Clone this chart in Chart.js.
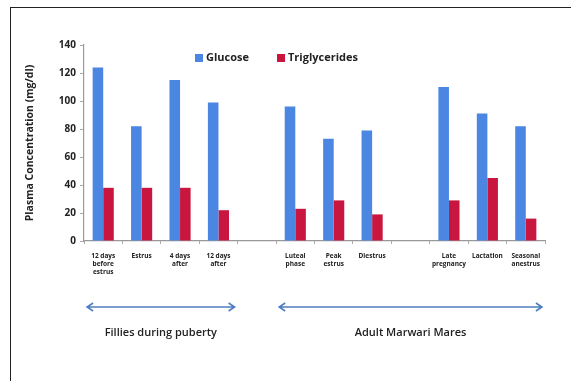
<!DOCTYPE html>
<html>
<head>
<meta charset="utf-8">
<script src="https://cdn.jsdelivr.net/npm/chart.js@4.4.1/dist/chart.umd.min.js"></script>
<style>
  html, body { margin: 0; padding: 0; background: #fff; overflow: hidden; }
  #wrap { position: absolute; left: 0; top: 0; width: 571px; height: 381px; }
  #frame { position: absolute; left: 10px; top: 7px; width: 600px; height: 420px;
           border: 1.5px solid #222; box-sizing: border-box; pointer-events: none; }
</style>
</head>
<body>
<div id="wrap"><canvas id="c" width="571" height="381"></canvas></div>
<div id="frame"></div>
<script>
// Reproductive stages (empty entries separate the groups)
const categories = [
  ["12 days", "before", "estrus"],
  ["Estrus"],
  ["4 days", "after"],
  ["12 days", "after"],
  "",
  ["Luteal", "phase"],
  ["Peak", "estrus"],
  ["Diestrus"],
  "",
  ["Late", "pregnancy"],
  ["Lactation"],
  ["Seasonal", "anestrus"]
];
const glucose       = [124, 82, 115, 99, null, 96, 73, 79, null, 110, 91, 82];
const triglycerides = [38, 38, 38, 22, null, 23, 29, 19, null, 29, 45, 16];
const yTicks = [0, 20, 40, 60, 80, 100, 120, 140];
const groupNames = ["Fillies during puberty", "Adult Marwari Mares"];
const groupRanges = [[0, 3], [5, 11]];

const BLUE = '#4A86E2';
const RED = '#C8163F';
const FONT = '"Open Sans", "DejaVu Sans", sans-serif';

// Legend and group arrows drawn on the canvas
const annotate = {
  id: 'annotate',
  afterDraw(chart) {
    const ctx = chart.ctx;
    const ca = chart.chartArea;
    const x = chart.scales.x;
    ctx.save();
    // legend
    const items = [[chart.data.datasets[0], 195], [chart.data.datasets[1], 277]];
    ctx.font = 'bold 11px ' + FONT;
    ctx.textBaseline = 'middle';
    ctx.textAlign = 'left';
    items.forEach(([ds, lx]) => {
      ctx.fillStyle = ds.backgroundColor;
      ctx.fillRect(lx, 54, 8, 8);
      ctx.fillStyle = '#222';
      ctx.fillText(ds.label, lx + 11, 58);
    });
    // group arrows
    const slot = x.width / chart.data.labels.length;
    const ay = ca.bottom + 66;
    ctx.strokeStyle = '#4F7FC0';
    ctx.lineWidth = 1.6;
    groupRanges.forEach(([a, b], i) => {
      const x0 = x.getPixelForValue(a) - slot * 0.42;
      const x1 = x.getPixelForValue(b) + slot * 0.42;
      ctx.beginPath();
      ctx.moveTo(x0, ay); ctx.lineTo(x1, ay);
      ctx.moveTo(x0 + 6, ay - 4); ctx.lineTo(x0, ay); ctx.lineTo(x0 + 6, ay + 4);
      ctx.moveTo(x1 - 6, ay - 4); ctx.lineTo(x1, ay); ctx.lineTo(x1 - 6, ay + 4);
      ctx.stroke();
      ctx.fillStyle = '#222';
      ctx.font = '600 11px ' + FONT;
      ctx.textAlign = 'center';
      ctx.fillText(groupNames[i], (x0 + x1) / 2, ay + 26);
    });
    ctx.restore();
  }
};

new Chart(document.getElementById('c'), {
  type: 'bar',
  data: {
    labels: categories,
    datasets: [
      { label: 'Glucose', data: glucose, backgroundColor: BLUE },
      { label: 'Triglycerides', data: triglycerides, backgroundColor: RED }
    ]
  },
  options: {
    responsive: false,
    animation: false,
    layout: { padding: { left: 22, right: 26, top: 45, bottom: 0 } },
    datasets: { bar: { barPercentage: 1, categoryPercentage: 0.55 } },
    plugins: { legend: { display: false }, tooltip: { enabled: false } },
    scales: {
      x: {
        grid: { display: true, drawOnChartArea: false, offset: true, tickLength: 3, color: '#aaa' },
        border: { color: '#999', width: 1.2 },
        ticks: {
          autoSkip: false, maxRotation: 0, minRotation: 0, padding: 8,
          color: '#222', font: { family: FONT, size: 6.5, weight: 'bold', lineHeight: 1.25 }
        },
        afterFit(s) { s.height = 140; }
      },
      y: {
        min: 0, max: 140,
        afterBuildTicks(s) { s.ticks = yTicks.map(v => ({ value: v })); },
        grid: { display: true, drawOnChartArea: false, tickLength: 4, color: '#aaa' },
        border: { color: '#999', width: 1.2 },
        ticks: { padding: 4, color: '#222', font: { family: FONT, size: 10, weight: 'bold' } },
        title: {
          display: true, text: 'Plasma Concentration (mg/dl)', color: '#222', padding: 2,
          font: { family: FONT, size: 10.5, weight: 'bold' }
        },
        afterFit(s) { s.width = 62; }
      }
    }
  },
  plugins: [annotate]
});
</script>
</body>
</html>
